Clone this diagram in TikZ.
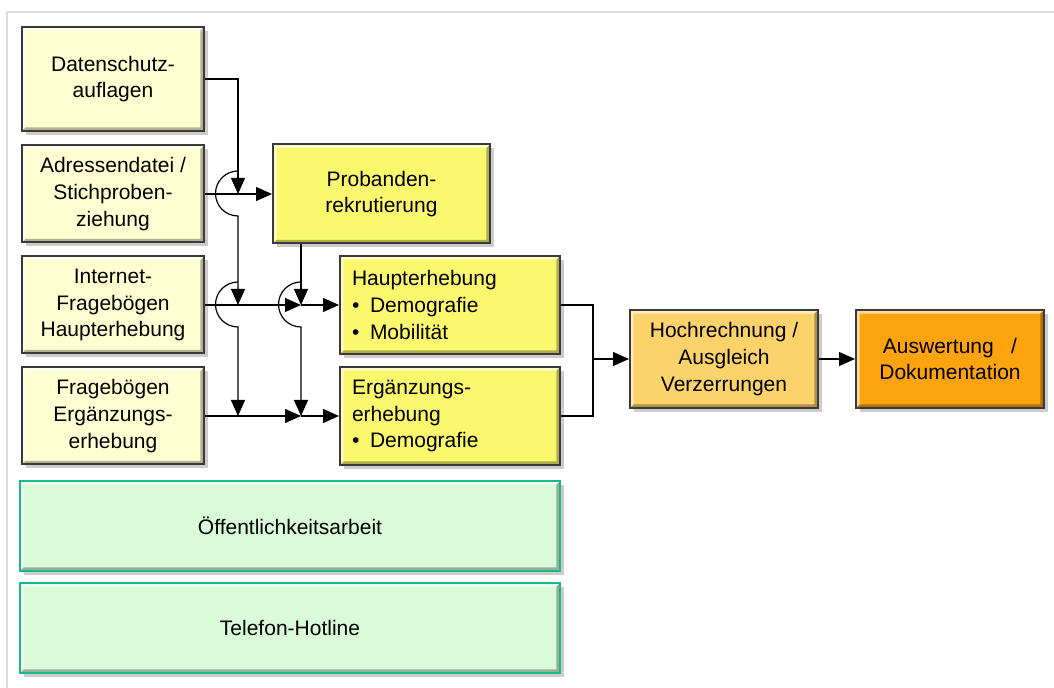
\documentclass[tikz,border=0pt]{standalone}
\usepackage{fontspec}
\setmainfont{Liberation Sans}
\usetikzlibrary{arrows.meta,shadows}
\definecolor{boxcream}{HTML}{FFFFD2}
\definecolor{boxyellow}{HTML}{FBF86E}
\definecolor{boxpeach}{HTML}{FCD26A}
\definecolor{boxorange}{HTML}{FDA30D}
\definecolor{boxmint}{HTML}{D9FBD8}
\definecolor{edgedark}{HTML}{3A3A3A}
\definecolor{edgeteal}{HTML}{19B98C}
\definecolor{framegray}{HTML}{DDDDDD}
\newcommand\itemdot{\makebox[9pt][l]{\textbullet}}

\begin{document}
\begin{tikzpicture}[x=0.5pt, y=-0.5pt, >={Triangle[length=8pt,width=7pt]}, line width=0.6pt,
  bevel/.style={path picture={
    \fill[white, opacity=.6] (path picture bounding box.south west) -- (path picture bounding box.north west) -- (path picture bounding box.north east)
      -- ([xshift=-1.8pt,yshift=-1.8pt]path picture bounding box.north east) -- ([xshift=1.8pt,yshift=-1.8pt]path picture bounding box.north west)
      -- ([xshift=1.8pt,yshift=1.8pt]path picture bounding box.south west) -- cycle;
    \fill[black, opacity=.3] (path picture bounding box.south west) -- (path picture bounding box.south east) -- (path picture bounding box.north east)
      -- ([xshift=-1.8pt,yshift=-1.8pt]path picture bounding box.north east) -- ([xshift=-1.8pt,yshift=1.8pt]path picture bounding box.south east)
      -- ([xshift=1.8pt,yshift=1.8pt]path picture bounding box.south west) -- cycle;}},
  blk/.style={draw=edgedark, line width=1pt, fill=#1, bevel,
    drop shadow={shadow xshift=1.8pt, shadow yshift=-2pt, opacity=.4},
    font=\fontsize{10.5}{13.3}\selectfont, align=center, inner sep=0pt},
  srcbox/.style={blk=boxcream, minimum width=91pt, minimum height=48.5pt},
  stepbox/.style={blk=boxyellow, minimum width=110pt, minimum height=49pt, text width=98pt, align=left},
  endbox/.style={blk=#1, minimum width=94pt, minimum height=49pt},
  grnbox/.style={blk=boxmint, draw=edgeteal, line width=1.2pt, minimum width=270pt, minimum height=45pt}]
\useasboundingbox (0,0) rectangle (1054,688);
\draw[framegray, line width=0.8pt] (7,688) -- (7,12) -- (1054,12);
\node[srcbox, minimum height=52pt] (ds) at (113,79) {Datenschutz-\\auflagen};
\node[srcbox] (ad) at (113,194) {Adressendatei /\\Stichproben-\\ziehung};
\node[srcbox] (inet) at (113,305) {Internet-\\Fragebögen\\Haupterhebung};
\node[srcbox] (fb) at (113,416) {Fragebögen\\Ergänzungs-\\erhebung};
\node[grnbox] (oea) at (290,526) {Öffentlichkeitsarbeit};
\node[grnbox] (tel) at (290,628) {Telefon-Hotline};
\node[blk=boxyellow, minimum width=108.5pt, minimum height=49.5pt] (prob) at (381.5,194) {Probanden-\\rekrutierung};
\node[stepbox] (haupt) at (450,305) {Haupterhebung\\\itemdot Demografie\\\itemdot Mobilität};
\node[stepbox] (erg) at (450,416) {Ergänzungs-\\erhebung\\\itemdot Demografie};
\node[endbox=boxpeach] (hoch) at (724,359) {Hochrechnung /\\Ausgleich\\Verzerrungen};
\node[endbox=boxorange] (ausw) at (950,359) {Auswertung\hspace{0.55em} /\\Dokumentation};
\coordinate (j1) at (238,194);
\coordinate (j2) at (238,305);
\coordinate (j3) at (238,416);
\coordinate (k2) at (301,305);
\coordinate (k3) at (301,416);
\coordinate (m) at (593,359);
\draw[->] (ds) -| (j1);
\draw[->] (ad) -- (prob);
\foreach \a/\b in {j1/j2, j2/j3, k2/k3}
  \draw[->] (\a) ++(0,-23) arc[start angle=270, end angle=90, radius=22.5] -- (\b);
\draw[->] (prob.south -| k2) -- (k2);
\foreach \s/\k/\t in {inet/k2/haupt, fb/k3/erg} {
  \draw[->] (\s) -- (\k);
  \draw[->] (\k) -- (\t);
}
\draw (haupt) -| (m);
\draw (erg) -| (m);
\draw[->] (m) -- (hoch);
\draw[->] (hoch) -- (ausw);
\end{tikzpicture}
\end{document}
